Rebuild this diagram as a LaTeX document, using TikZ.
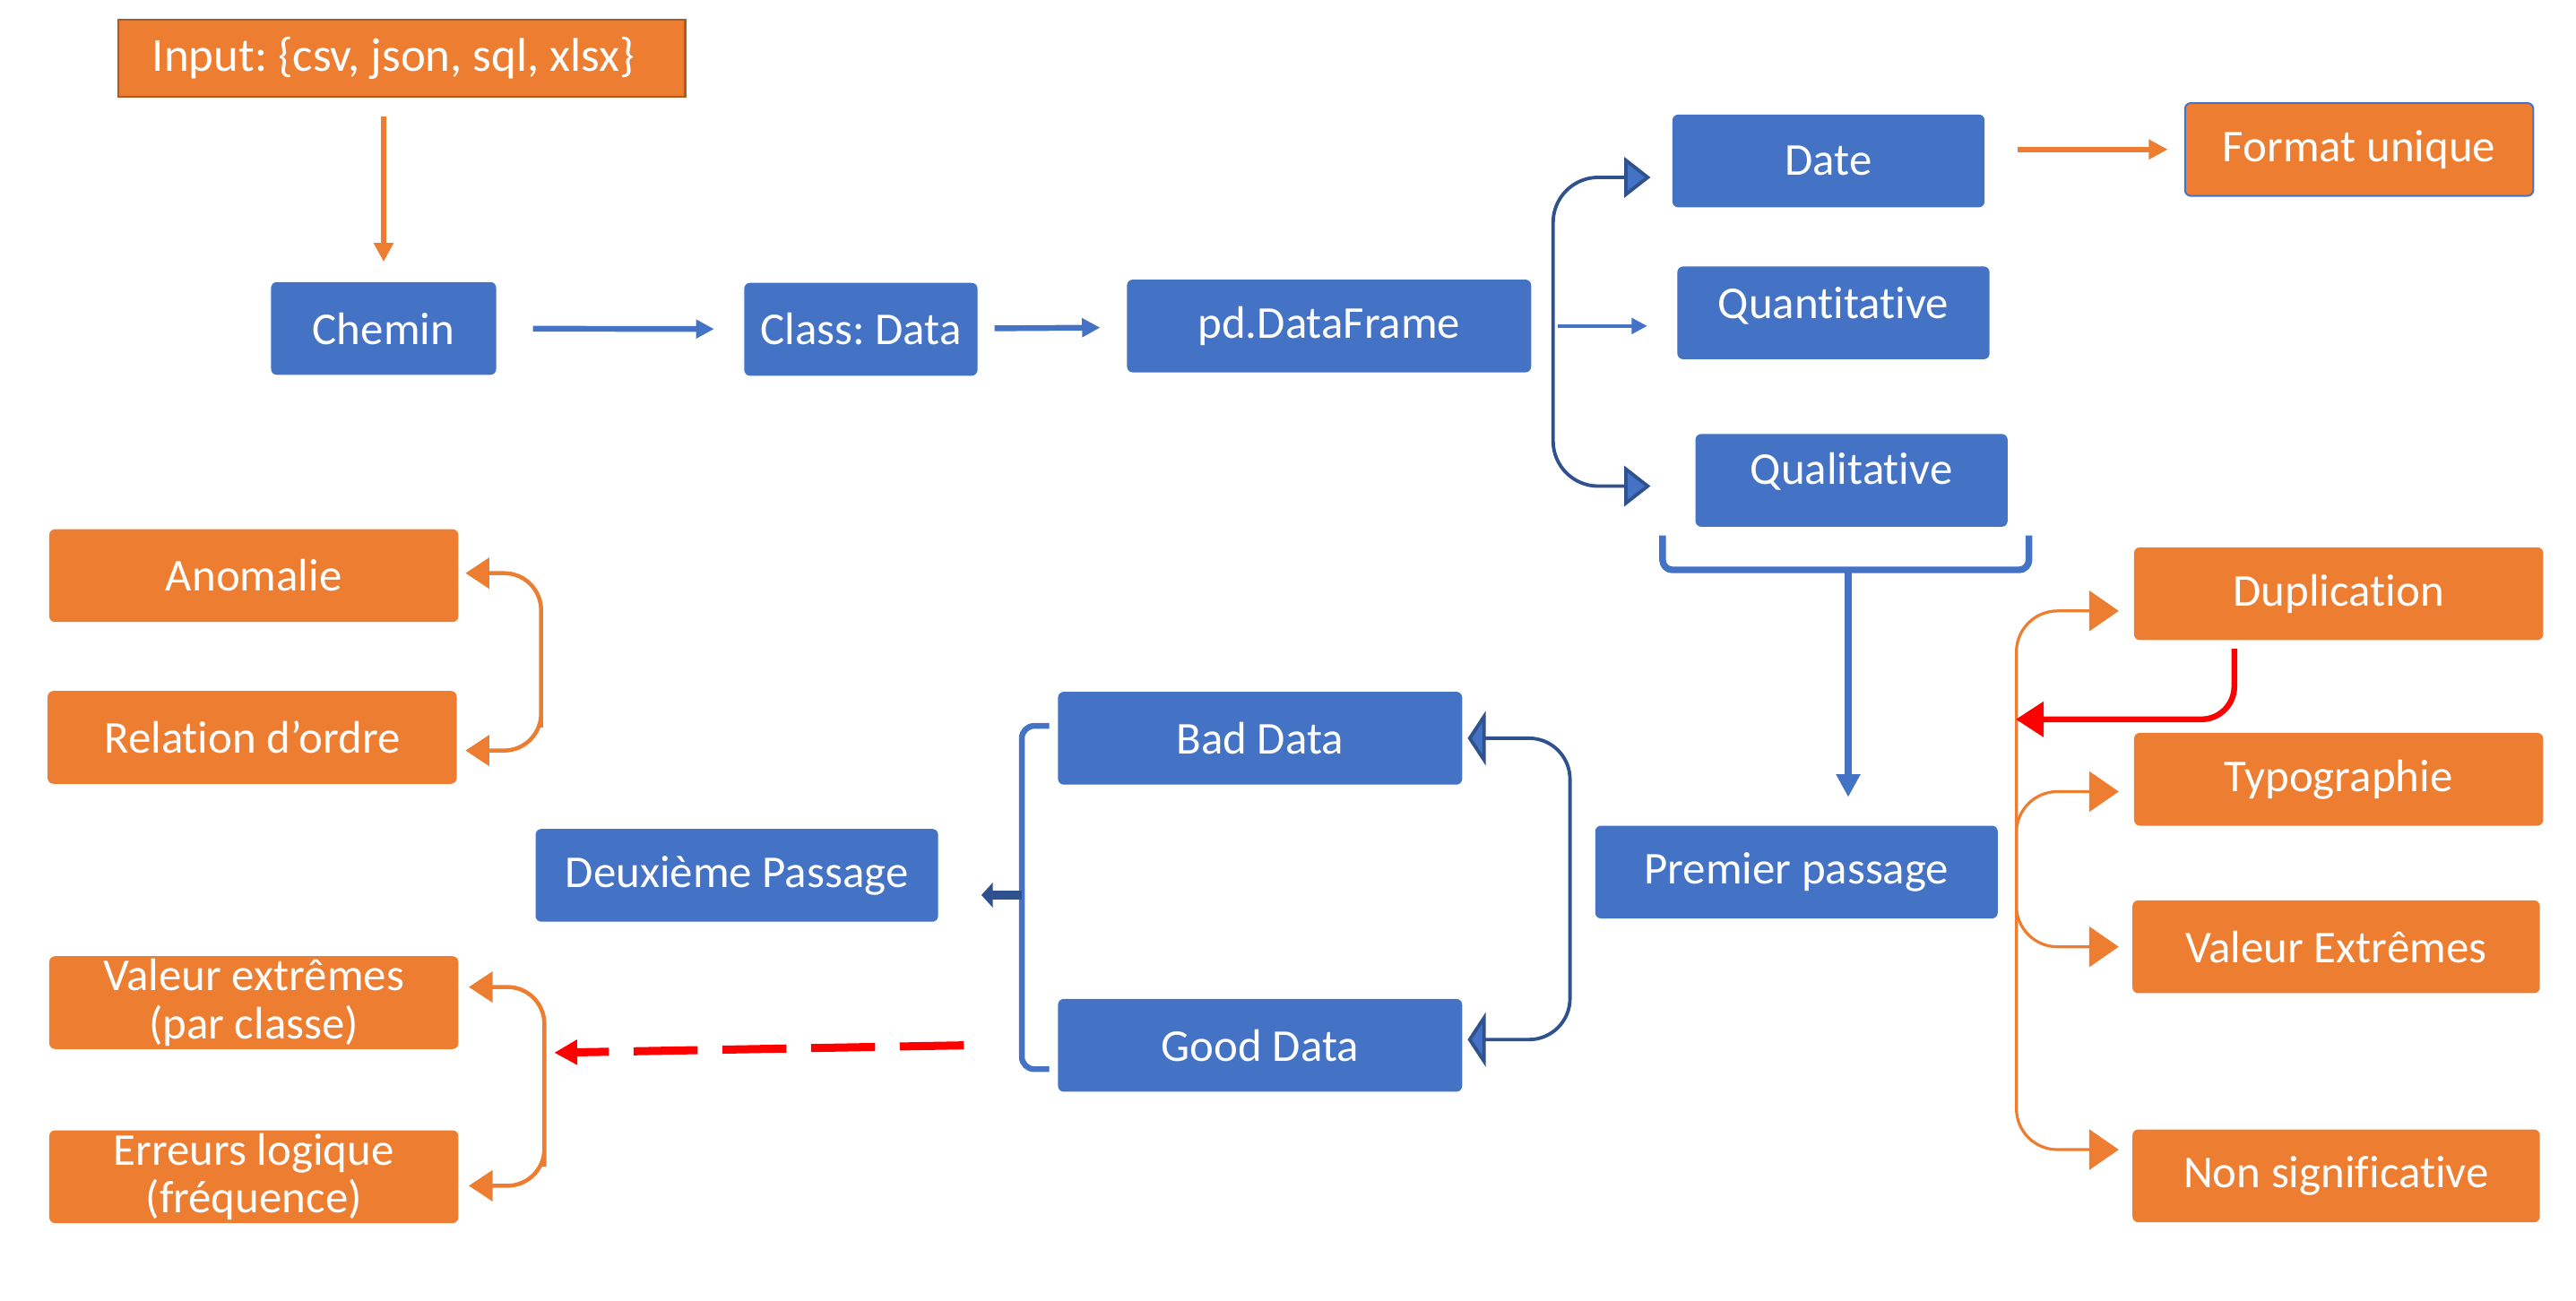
\documentclass[tikz,border=0pt]{standalone}
\usepackage{fontspec}
\setmainfont{Carlito}[Ligatures={NoCommon}]
\usetikzlibrary{arrows.meta,calc}
\frenchspacing

\definecolor{boxblue}{HTML}{4472C4}
\definecolor{boxorange}{HTML}{ED7D31}
\definecolor{linenavy}{HTML}{2F528F}
\definecolor{inputedge}{HTML}{AE5A21}

\begin{document}
\begin{tikzpicture}[
  x=0.2mm, y=-0.2mm,
  font=\fontsize{15.8}{16.6}\selectfont,
  box/.style={rounded corners=2pt, align=center, text=white, inner sep=0pt,
    minimum height=1.13cm},
  bluebox/.style={box, fill=boxblue},
  orangebox/.style={box, fill=boxorange},
  flow/.style={draw=boxblue, line width=2pt, -{Triangle[length=2.2mm, width=2.2mm]}},
  oflow/.style={draw=boxorange, line width=2pt, -{Triangle[length=2.3mm, width=2.3mm]}},
  redflow/.style={draw=red, line width=2pt, -{Triangle[length=3.4mm, width=4.2mm]}},
  reddash/.style={draw=red, line width=2.8pt, dash pattern=on 7.8mm off 3mm,
    -{Triangle[length=2.8mm, width=2.9mm]}},
  fork/.style={draw=linenavy, line width=1.2pt, rounded corners=5.5mm,
    {Triangle[length=3.2mm, width=4.9mm, fill=boxblue]}-{Triangle[length=3.2mm, width=4.9mm, fill=boxblue]}},
  bfork/.style={draw=linenavy, line width=1.2pt, rounded corners=5mm,
    {Triangle[length=2.2mm, width=6.6mm, fill=boxblue]}-{Triangle[length=2.2mm, width=6.6mm, fill=boxblue]}},
  lfork/.style={draw=boxblue, line width=2pt, rounded corners=1.5mm},
  ofork/.style={draw=boxorange, line width=1pt, rounded corners=5mm,
    {Triangle[length=3.6mm, width=4.9mm]}-{Triangle[length=3.6mm, width=4.9mm]}},
  lofork/.style={draw=boxorange, line width=1.4pt, rounded corners=4.5mm,
    {Triangle[length=2.9mm, width=3.7mm]}-{Triangle[length=2.9mm, width=3.7mm]}},
  brace/.style={draw=boxblue, line width=2.3pt, rounded corners=1.2mm}
]
  \useasboundingbox (0,0) rectangle (1568,792);

  % top row
  \node[orangebox, draw=inputedge, line width=0.8pt, rounded corners=0pt,
    minimum width=6.9cm, minimum height=0.94cm, font=\fontsize{16.4}{17}\selectfont]
    (input) at (244.5,35.5) {Input: \{csv, json, sql, xlsx\}\hspace*{2mm}};
  \node[bluebox, minimum width=2.74cm] (chemin) at (233.5,200) {Chemin};
  \node[bluebox, minimum width=2.84cm] (class) at (524,200.5) {Class: Data};
  \node[bluebox, minimum width=4.92cm] (frame) at (809,198.5) {pd.DataFrame};
  \node[bluebox, minimum width=3.8cm] (date) at (1113,98) {Date};
  \node[bluebox, minimum width=3.8cm, text depth=2.5mm] (quanti) at (1116,190.5) {Quantitative};
  \node[bluebox, minimum width=3.8cm, text depth=3mm] (quali) at (1127,292.5) {Qualitative};
  \node[orangebox, draw=boxblue, line width=0.6pt, minimum width=4.24cm]
    (format) at (1436,91) {Format unique};

  % first pass
  \node[bluebox, minimum width=4.9cm] (premier) at (1093.5,531) {Premier passage};
  \node[orangebox, minimum width=4.98cm] (dup) at (1423.5,361.5) {Duplication};
  \node[orangebox, minimum width=4.98cm] (typo) at (1423.5,474.5) {Typographie};
  \node[orangebox, minimum width=4.96cm] (extreme) at (1422,576.5) {Valeur Extrêmes};
  \node[orangebox, minimum width=4.96cm] (nonsig) at (1422,716) {Non significative};

  % second pass
  \node[bluebox, minimum width=4.92cm] (bad) at (767,449.5) {Bad Data};
  \node[bluebox, minimum width=4.92cm] (good) at (767,636.5) {Good Data};
  \node[bluebox, minimum width=4.9cm] (deux) at (448.5,533) {Deuxième Passage};
  \node[orangebox, minimum width=4.98cm] (anom) at (154.5,350.5) {Anomalie};
  \node[orangebox, minimum width=4.98cm] (ordre) at (153.5,449) {Relation d’ordre};
  \node[orangebox, minimum width=4.98cm] (parclasse) at (154.5,610.5)
    {Valeur extrêmes\\(par classe)};
  \node[orangebox, minimum width=4.98cm] (freq) at (154.5,716.5)
    {Erreurs logique\\(fréquence)};

  % chain
  \draw[oflow, shorten <=2.2mm, shorten >=2.4mm] (input.south -| chemin.north) -- (chemin.north);
  \draw[flow, shorten <=4.4mm, shorten >=3.6mm] (chemin) -- (class);
  \draw[flow, shorten <=2mm, shorten >=3.2mm] (class) -- (frame);
  \draw[oflow, shorten <=4mm, shorten >=2mm] (date.east |- format.west) -- (format.west);

  \draw[fork] ([xshift=-2.6mm, yshift=-2mm]date.west) -| ([xshift=2.6mm]frame.east)
    |- ([xshift=-5.4mm, yshift=-0.7mm]quali.west);
  \draw[draw=boxblue, line width=1.2pt, -{Triangle[length=1.9mm, width=1.9mm]}]
    ([xshift=3.2mm]frame.east) -- ([xshift=-3.6mm]frame.east -| quanti.west);

  % brace under the types
  \draw[brace] (1012,326) |- (1125,347) coordinate (bracemid) -| (1235,326);
  \draw[draw=boxblue, line width=2.6pt, -{Triangle[length=2.8mm, width=2.8mm]},
    shorten >=3.4mm] (bracemid) -- (bracemid |- premier.north);

  % checks of the first pass
  \draw[ofork] ([xshift=-1.8mm, yshift=-2.1mm]dup.west) -| ([xshift=2.2mm]premier.east)
    |- ([xshift=-1.6mm, yshift=3.2mm]nonsig.west);
  \draw[ofork] ([xshift=-1.8mm, yshift=-1.5mm]typo.west) -| ([xshift=2.2mm]premier.east)
    |- ([xshift=-1.6mm]extreme.west);
  \coordinate (dupback) at (1227,438);
  \draw[redflow, rounded corners=4mm] ([xshift=-12.7mm, yshift=-1mm]dup.south) |- (dupback);

  % split into bad / good data
  \draw[bfork] ([xshift=0.6mm]bad.east) -| ([xshift=-3mm]premier.west)
    |- ([xshift=0.6mm, yshift=0.7mm]good.east);
  \coordinate (sortie) at (622,545);
  \draw[lfork] ([xshift=-1mm, yshift=1.5mm]bad.west) -| (sortie)
    |- ([xshift=-1mm, yshift=-2.9mm]good.west);
  \draw[draw=linenavy, line width=3.3pt, -{Triangle[length=1.4mm, width=3mm]},
    shorten >=5.2mm] (sortie) -- (sortie -| deux.east);

  % checks of the second pass
  \draw[lofork] ([xshift=0.8mm, yshift=0.3mm]anom.east) -| ([xshift=10.2mm]ordre.north east)
    |- ([xshift=1mm, yshift=-1.6mm]ordre.east);
  \draw[lofork] ([xshift=1.2mm, yshift=1.9mm]parclasse.east) -| ([xshift=10.4mm]freq.north east)
    |- ([xshift=1.2mm, yshift=-1.1mm]freq.east);
  \draw[reddash] ([xshift=-11.4mm]good.west) -- ([xshift=11.6mm, yshift=-6.1mm]parclasse.east);
\end{tikzpicture}
\end{document}
